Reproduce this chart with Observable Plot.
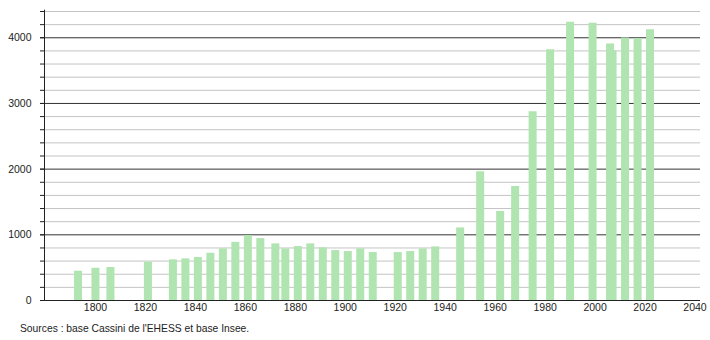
<!DOCTYPE html>
<html>
<head>
<meta charset="utf-8">
<script src="https://cdn.jsdelivr.net/npm/d3@7"></script>
<script src="https://cdn.jsdelivr.net/npm/@observablehq/plot@0.6"></script>
<style>
  body { margin: 0; background: #fff; }
  #caption { font-family: "Liberation Sans", Arial, sans-serif; font-size: 10.3px; color: #222; padding-left: 20px; line-height: 14px; padding-top: 2px; }
</style>
</head>
<body>
<div id="chart"></div>
<div id="caption">Sources : base Cassini de l'EHESS et base Insee.</div>
<script>
const years = [1793, 1800, 1806, 1821, 1831, 1836, 1841, 1846, 1851, 1856, 1861, 1866, 1872, 1876, 1881, 1886, 1891, 1896, 1901, 1906, 1911, 1921, 1926, 1931, 1936, 1946, 1954, 1962, 1968, 1975, 1982, 1990, 1999, 2006, 2007, 2012, 2017, 2022];
const population = [446, 491, 502, 583, 619, 634, 654, 719, 786, 885, 989, 943, 862, 786, 821, 862, 801, 760, 745, 786, 730, 730, 745, 786, 816, 1105, 1962, 1354, 1734, 2875, 3817, 4238, 4223, 3904, 3802, 3995, 3990, 4122];
const yGridTicks = d3.range(0, 4401, 200);
const yMajorTicks = [1000, 2000, 3000, 4000];
const yLabelTicks = [0, 1000, 2000, 3000, 4000];
const xTicks = d3.range(1800, 2041, 20);

const data = years.map((y, i) => ({year: y, pop: population[i]}));
const xDomain = [1779.6, 2042.2];

const chart = Plot.plot({
  width: 710,
  height: 320,
  marginLeft: 44,
  marginRight: 10,
  marginTop: 11,
  marginBottom: 20,
  style: {fontFamily: "'Liberation Sans', Arial, sans-serif", fontSize: "10.5px", color: "#222", background: "#fff"},
  x: {domain: xDomain, label: null},
  y: {domain: [0, 4400], label: null},
  marks: [
    Plot.ruleY(yGridTicks.filter(d => d % 1000 !== 0), {stroke: "#c4c4c4", strokeWidth: 1}),
    Plot.ruleY(yMajorTicks, {stroke: "#333", strokeWidth: 1}),
    Plot.ruleX(data, {x: "year", y1: 0, y2: "pop", stroke: "#b0e4b0", strokeWidth: 8}),
    Plot.axisY({ticks: yGridTicks, tickSize: 4, tickFormat: () => "", stroke: "#222", label: null}),
    Plot.axisY({ticks: yLabelTicks, tickSize: 4, tickPadding: 9, tickFormat: d => String(d), label: null}),
    Plot.ruleX([xDomain[0]], {y1: 0, y2: 4420, stroke: "#222"}),
    Plot.ruleY([0], {stroke: "#222"}),
    Plot.axisX({ticks: xTicks, tickSize: 0, tickPadding: 3, tickFormat: d => String(d), label: null})
  ]
});
document.getElementById("chart").appendChild(chart);
</script>
</body>
</html>
